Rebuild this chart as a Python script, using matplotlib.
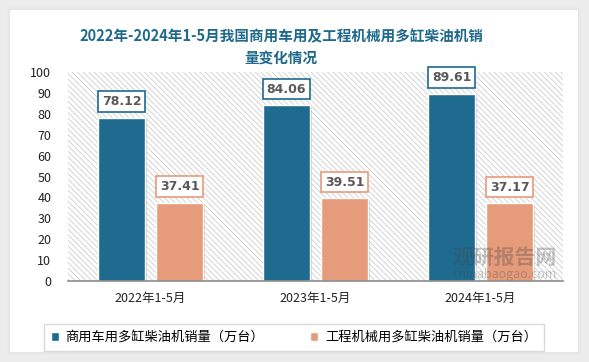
import matplotlib
matplotlib.use("Agg")
import matplotlib.pyplot as plt
import matplotlib.patheffects as pe
from matplotlib.patches import Rectangle
import numpy as np

plt.rcParams['font.family'] = ['Noto Sans CJK SC', 'DejaVu Sans']
plt.rcParams['hatch.linewidth'] = 0.6

categories = ["2022年1-5月", "2023年1-5月", "2024年1-5月"]
series_names = ["商用车用多缸柴油机销量（万台）", "工程机械用多缸柴油机销量（万台）"]
commercial = [78.12, 84.06, 89.61]
engineering = [37.41, 39.51, 37.17]
yticks = [0, 10, 20, 30, 40, 50, 60, 70, 80, 90, 100]
title = "2022年-2024年1-5月我国商用车用及工程机械用多缸柴油机销\n量变化情况"

W, H = 589, 362
fig = plt.figure(figsize=(W / 100, H / 100), dpi=100)
fig.patch.set_facecolor("#ECECEC")

# white card with soft shadow
for i, a in enumerate([0.03, 0.04, 0.05]):
    d = 3 - i
    fig.patches.append(Rectangle(((10 - d) / W, (10 - d) / H), (568 + 2 * d) / W, (342 + 2 * d) / H,
                                 transform=fig.transFigure, facecolor="#BBBBBB", alpha=a,
                                 edgecolor="none", zorder=0))
fig.patches.append(Rectangle((10 / W, 10 / H), 568 / W, 342 / H, transform=fig.transFigure,
                             facecolor="white", edgecolor="none", zorder=0.5))

blue = "#1E6B8F"
orange = "#E69B7B"

ax = fig.add_axes([68 / W, (H - 281) / H, 495 / W, 209 / H])
ax.set_facecolor("white")
ax.patch.set_alpha(0)
ax.set_zorder(2)

x = np.arange(len(categories))
ax.set_xlim(-0.5, len(categories) - 0.5)
ax.set_ylim(0, 100)

# hatched background
ax.add_patch(Rectangle((-0.5, 0), len(categories), 100, facecolor="white",
                       edgecolor="#CDCDCD", hatch="\\\\\\\\\\\\", linewidth=0, zorder=0))

bw = 0.28
off = 0.176
shadow = [pe.SimplePatchShadow(offset=(2, -1), shadow_rgbFace="#888888", alpha=0.35), pe.Normal()]
b1 = ax.bar(x - off, commercial, bw, color=blue, edgecolor="white", linewidth=1.0, zorder=3,
            label=series_names[0])
b2 = ax.bar(x + off, engineering, bw, color=orange, edgecolor="white", linewidth=1.0, zorder=3,
            label=series_names[1])
for b in list(b1) + list(b2):
    b.set_path_effects(shadow)

for xs, vals, col in [(x - off, commercial, blue), (x + off, engineering, orange)]:
    for xi, v in zip(xs, vals):
        ax.annotate(f"{v:.2f}", (xi, v), xytext=(0, 7), textcoords="offset points",
                    ha="center", va="bottom", fontsize=9, fontweight="bold", color="#595959",
                    family="DejaVu Sans",
                    bbox=dict(boxstyle="square,pad=0.3", facecolor="white", edgecolor=col,
                              linewidth=1.2),
                    zorder=5)

ax.set_yticks(yticks)
ax.set_xticks(x)
ax.set_xticklabels(categories)
ax.tick_params(axis="both", length=0, labelsize=9, colors="#222222")
ax.tick_params(axis="y", pad=12)
ax.tick_params(axis="x", pad=8)
for s in ["top", "right", "left"]:
    ax.spines[s].set_visible(False)
ax.spines["bottom"].set_color("#8C8C8C")
ax.spines["bottom"].set_linewidth(1.2)
ax.spines["bottom"].set_zorder(4)

# watermark
ax.text(0.988, 0.115, "观研报告网", transform=ax.transAxes, ha="right", va="center",
        fontsize=15, fontweight="bold", color="#444444", alpha=0.3, zorder=4)
ax.text(0.988, 0.03, "chinabaogao.com", transform=ax.transAxes, ha="right", va="center",
        fontsize=9, color="#444444", alpha=0.3, zorder=4)

fig.text(281 / W, 1 - 47 / H, title, ha="center", va="center", fontsize=10.5, fontweight="bold",
         color="#1F6A8C", linespacing=1.45)

leg = fig.legend(handles=[b1, b2], labels=series_names, loc="center",
                 bbox_to_anchor=(294 / W, 1 - 337.5 / H), ncol=2, frameon=True, fontsize=9.5,
                 handlelength=0.6, handleheight=0.6, handletextpad=0.5, columnspacing=3.5,
                 borderpad=0.55, fancybox=False, edgecolor="#D0D0D0")
leg.get_frame().set_linewidth(1.0)
for h in leg.legend_handles:
    h.set_path_effects([])

fig.savefig("out.png", dpi=100)
